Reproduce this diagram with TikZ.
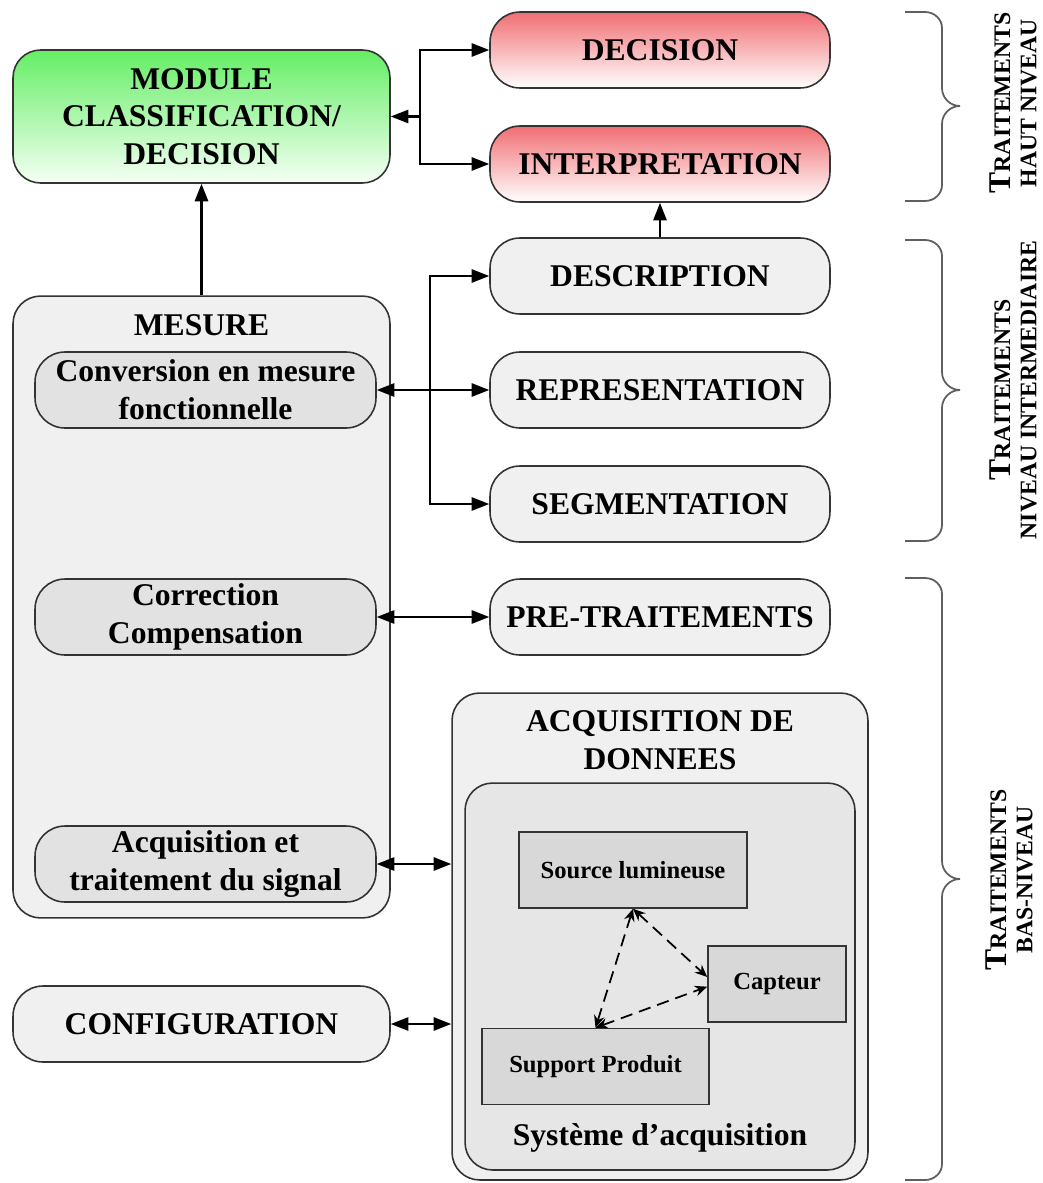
\documentclass[tikz,border=0pt]{standalone}
\usepackage{fontspec}
\setmainfont{Liberation Serif}
\usepackage{tikz}
\usetikzlibrary{arrows.meta, calc, positioning}
\usepackage{xcolor}
\definecolor{grntop}{RGB}{100,238,100}
\definecolor{grnbot}{RGB}{245,255,245}
\definecolor{redtop}{RGB}{240,110,115}
\definecolor{boxgray}{RGB}{240,240,240}
\definecolor{subgray}{RGB}{226,226,226}
\definecolor{sysgray}{RGB}{230,230,230}
\definecolor{blkgray}{RGB}{216,216,216}
\definecolor{brcgray}{RGB}{95,95,95}
\tikzset{
  stage/.style  ={draw=black!80, line width=0.9pt, rounded corners=0.6cm, minimum width=6.8cm, minimum height=1.52cm, inner sep=0pt, fill=boxgray, align=center, font=\bfseries\fontsize{18}{21.5}\selectfont},
  hilvl/.style  ={stage, top color=redtop, bottom color=white},
  modbox/.style ={stage, minimum width=7.54cm, minimum height=2.66cm, rounded corners=0.55cm, top color=grntop, bottom color=grnbot},
  subbox/.style ={stage, minimum width=6.82cm, fill=subgray},
  grpbox/.style ={draw=black!80, line width=0.9pt, rounded corners=0.55cm, inner sep=0pt, fill=boxgray},
  blk/.style    ={draw=black!80, line width=0.9pt, fill=blkgray, minimum height=1.52cm, inner sep=0pt, font=\bfseries\fontsize{14}{17}\selectfont},
  ttl/.style    ={align=center, font=\bfseries\fontsize{18}{21.5}\selectfont},
  arr/.style    ={-{Triangle[length=10pt,width=7.5pt]}, line width=1.2pt},                                     % one way
  darr/.style   ={{Triangle[length=10pt,width=7.5pt]}-{Triangle[length=10pt,width=7.5pt]}, line width=1.2pt}, % both ways
  dsh/.style    ={{Stealth[length=7pt,width=6pt]}-{Stealth[length=7pt,width=6pt]}, dash pattern=on 7pt off 4pt, line width=1pt},
  brc/.style    ={draw=brcgray, line width=1pt},
  lvl/.style    ={rotate=90, align=center, font=\bfseries\fontsize{13.5}{15}\selectfont},
}

\begin{document}
\begin{tikzpicture}[x=0.02cm, y=-0.02cm]
  \useasboundingbox (0,0) rectangle (1043,1183);

  % HIGH LEVEL: classification / decision
  \node[modbox] (mod)    at (201.5,116.5) {MODULE\\CLASSIFICATION/\\DECISION};
  \node[hilvl]  (dec)    at (660,50)      {DECISION};
  \node[hilvl]  (interp) at (660,164)     {INTERPRETATION};
  \coordinate (jhi) at (420,116.5);
  \draw[arr] (jhi) -- (mod.east);
  \draw[arr] (jhi) |- (dec.west);
  \draw[arr] (jhi) |- (interp.west);

  % INTERMEDIATE
  \node[stage] (descr) at (660,276) {DESCRIPTION};
  \node[stage] (repr)  at (660,390) {REPRESENTATION};
  \node[stage] (segm)  at (660,504) {SEGMENTATION};
  \draw[arr] (descr) -- (interp);

  % MESURE block
  \node[grpbox, minimum width=7.54cm, minimum height=12.44cm] (mes) at (201.5,607) {};
  \node[ttl]    (mesttl) at (201.5,325) {MESURE};
  \node[subbox] (conv)   at (205.5,390) {Conversion en mesure\\fonctionnelle};
  \node[subbox] (corr)   at (205.5,617) {Correction\\Compensation};
  \node[subbox] (acqs)   at (205.5,864) {Acquisition et\\traitement du signal};
  \draw[arr, line width=1.5pt] (mes) -- (mod);

  \coordinate (jmid) at (430,390);
  \draw[darr] (conv) -- (repr);
  \draw[arr] (jmid) |- (descr.west);
  \draw[arr] (jmid) |- (segm.west);

  % LOW LEVEL
  \node[stage] (pretr) at (660,617) {PRE-TRAITEMENTS};
  \draw[darr] (corr) -- (pretr);
  \node[stage, minimum width=7.54cm] (config) at (201.5,1024) {CONFIGURATION};

  % acquisition system
  \node[grpbox, minimum width=8.32cm, minimum height=9.74cm] (acqd) at (660,936.5) {};
  \node[ttl] (acqdttl) at (660,740) {ACQUISITION DE\\DONNEES};
  \node[grpbox, fill=sysgray, minimum width=7.8cm, minimum height=7.74cm] (sys) at (660,976.5) {};
  \node[ttl] (systtl) at (660,1138) {Système d’acquisition};
  \node[blk, minimum width=4.56cm] (src)  at (633,870)    {Source lumineuse};
  \node[blk, minimum width=2.76cm] (capt) at (777,984)    {Capteur};
  \node[blk, minimum width=4.54cm] (supp) at (595.5,1066.5) {Support Produit};
  \draw[dsh] (src.south) -- ([yshift=4pt]capt.west);
  \draw[dsh] (src.south) -- (supp.north);
  \draw[dsh] (supp.north) -- ([yshift=-1.5pt]capt.west);

  \draw[darr] (acqs.east) -- (acqs.east -| acqd.west);
  \draw[darr] (config.east) -- (config.east -| acqd.west);

  % braces + level labels
  \draw[brc] (905,12) -- (925,12) to[out=0,in=90] (942,28) -- (942,88)
    to[out=-90,in=180] (960,106) to[out=180,in=90] (942,124) -- (942,185)
    to[out=-90,in=0] (925,201) -- (905,201);
  \draw[brc] (905,240) -- (925,240) to[out=0,in=90] (942,256) -- (942,372)
    to[out=-90,in=180] (960,390) to[out=180,in=90] (942,408) -- (942,525)
    to[out=-90,in=0] (925,541) -- (905,541);
  \draw[brc] (905,578) -- (925,578) to[out=0,in=90] (942,594) -- (942,861)
    to[out=-90,in=180] (960,879) to[out=180,in=90] (942,897) -- (942,1164)
    to[out=-90,in=0] (925,1180) -- (905,1180);

  \node[lvl] (lblhi)  at (1013,103) {{\fontsize{18}{15}\selectfont T}RAITEMENTS\\HAUT NIVEAU};
  \node[lvl] (lblmid) at (1013,390) {{\fontsize{18}{15}\selectfont T}RAITEMENTS\\NIVEAU INTERMEDIAIRE};
  \node[lvl] (lbllo)  at (1009,880) {{\fontsize{18}{15}\selectfont T}RAITEMENTS\\BAS-NIVEAU};
\end{tikzpicture}
\end{document}
